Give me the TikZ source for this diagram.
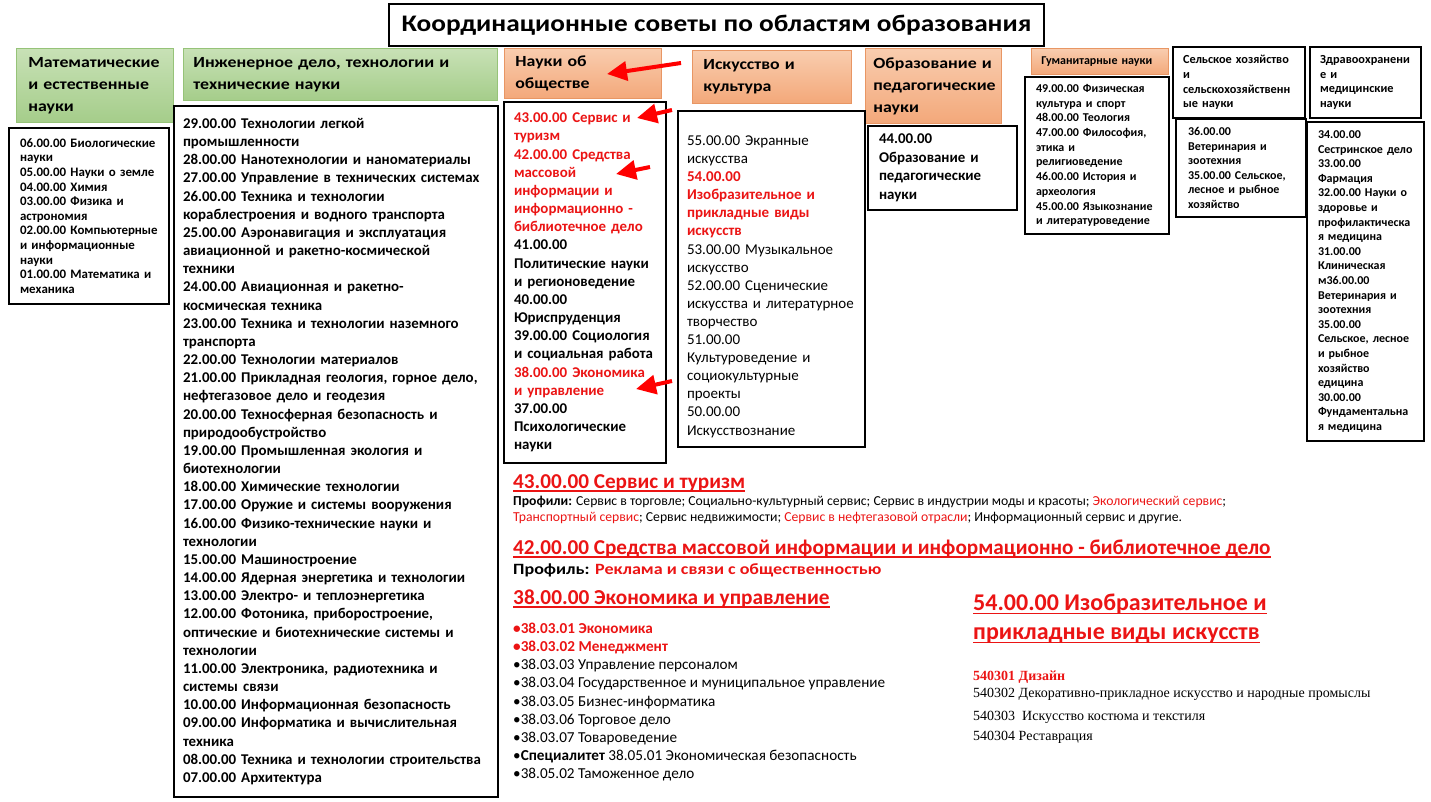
\documentclass[tikz,border=0pt]{standalone}
\usepackage{fontspec}
\setmainfont{Carlito}
\newfontfamily\widefont{Carlito}[FakeStretch=1.15]
\newfontfamily\serifru{Liberation Serif}
\usetikzlibrary{arrows.meta, positioning}

\definecolor{hdgreen}{RGB}{165,205,138}
\definecolor{hdgreenlt}{RGB}{200,225,182}
\definecolor{hdgreenline}{RGB}{150,195,120}
\definecolor{hdorange}{RGB}{243,168,122}
\definecolor{hdorangelt}{RGB}{249,205,175}
\definecolor{hdorangeline}{RGB}{232,150,100}
\definecolor{redtxt}{RGB}{235,20,20}

\newcommand{\rt}[1]{\textcolor{redtxt}{#1}}
\newcommand{\ulred}[1]{\leavevmode\setbox0\hbox{#1}\rlap{\rule[-3.5pt]{\wd0}{1.5pt}}\box0}

\tikzset{
  listbox/.style={draw, line width=2pt, anchor=north west, align=left, fill=white},
  greenhead/.style={draw=hdgreenline, line width=0.8pt, top color=hdgreenlt, bottom color=hdgreen, anchor=north west, align=left},
  orangehead/.style={draw=hdorangeline, line width=0.8pt, top color=hdorangelt, bottom color=hdorange, anchor=north west, align=left},
  redarrow/.style={draw=red, line width=4pt, -{Triangle[length=20pt,width=19pt]}},
  plain/.style={anchor=base west, inner sep=0pt, align=left}
}

\begin{document}
\begin{tikzpicture}[x=1pt, y=-1pt]
  \useasboundingbox (0,0) rectangle (1431,802);

  % title
  \node (title) [listbox, minimum width=655pt, minimum height=42pt, align=center, font=\widefont\bfseries\fontsize{23.75}{28}\selectfont] at (388,3)
    {Координационные советы по областям образования};

  % headers
  \node (mathhd) [greenhead, minimum width=157pt, minimum height=74pt, inner xsep=12pt, text width=133pt, font=\widefont\bfseries\fontsize{15.5}{22}\selectfont] at (16,48)
    {Математические\\и естественные\\науки};
  \node (enghd) [greenhead, minimum width=314pt, minimum height=52pt, inner xsep=10pt, text width=294pt, font=\widefont\bfseries\fontsize{15.5}{22}\selectfont] at (183,48)
    {Инженерное дело, технологии и\\технические науки};
  \node (sochd) [orangehead, minimum width=157pt, minimum height=50pt, inner xsep=11pt, text width=135pt, font=\widefont\bfseries\fontsize{15.5}{22}\selectfont] at (504,48)
    {Науки об\\обществе};
  \node (arthd) [orangehead, minimum width=159pt, minimum height=53pt, inner xsep=11pt, text width=137pt, font=\widefont\bfseries\fontsize{15.5}{22}\selectfont] at (692,50)
    {Искусство и\\культура};
  \node (eduhd) [orangehead, minimum width=136pt, minimum height=75pt, inner xsep=8pt, text width=120pt, font=\widefont\bfseries\fontsize{15.5}{22}\selectfont] at (865,48)
    {Образование и\\педагогические\\науки};
  \node (humhd) [orangehead, minimum width=137pt, minimum height=26pt, inner xsep=10pt, text width=117pt, font=\bfseries\fontsize{12}{14}\selectfont] at (1031,48)
    {Гуманитарные науки};
  \node (agrhd) [listbox, minimum width=132pt, minimum height=71pt, inner xsep=10pt, text width=112pt, font=\bfseries\fontsize{12.3}{14.7}\selectfont] at (1172,46)
    {Сельское хозяйство\\и\\сельскохозяйственн\\ые науки};
  \node (medhd) [listbox, minimum width=111pt, minimum height=71pt, inner xsep=10pt, text width=91pt, font=\bfseries\fontsize{12.3}{14.7}\selectfont] at (1309,46)
    {Здравоохранени\\е и\\медицинские\\науки};

  % lists
  \node (mathls) [listbox, minimum width=160pt, minimum height=176pt, inner xsep=11pt, text width=138pt, font=\bfseries\fontsize{12.9}{14.6}\selectfont] at (8,127)
    {06.00.00 Биологические\\науки\\05.00.00 Науки о земле\\04.00.00 Химия\\03.00.00 Физика и\\астрономия\\02.00.00 Компьютерные\\и информационные\\науки\\01.00.00 Математика и\\механика};
  \node (engls) [listbox, minimum width=324pt, minimum height=691pt, inner xsep=9pt, text width=306pt, font=\bfseries\fontsize{14.9}{18.17}\selectfont] at (173,105)
    {29.00.00 Технологии легкой\\промышленности\\28.00.00 Нанотехнологии и наноматериалы\\27.00.00 Управление в технических системах\\26.00.00 Техника и технологии\\кораблестроения и водного транспорта\\25.00.00 Аэронавигация и эксплуатация\\авиационной и ракетно-космической\\техники\\24.00.00 Авиационная и ракетно-\\космическая техника\\23.00.00 Техника и технологии наземного\\транспорта\\22.00.00 Технологии материалов\\21.00.00 Прикладная геология, горное дело,\\нефтегазовое дело и геодезия\\20.00.00 Техносферная безопасность и\\природообустройство\\19.00.00 Промышленная экология и\\биотехнологии\\18.00.00 Химические технологии\\17.00.00 Оружие и системы вооружения\\16.00.00 Физико-технические науки и\\технологии\\15.00.00 Машиностроение\\14.00.00 Ядерная энергетика и технологии\\13.00.00 Электро- и теплоэнергетика\\12.00.00 Фотоника, приборостроение,\\оптические и биотехнические системы и\\технологии\\11.00.00 Электроника, радиотехника и\\системы связи\\10.00.00 Информационная безопасность\\09.00.00 Информатика и вычислительная\\техника\\08.00.00 Техника и технологии строительства\\07.00.00 Архитектура};
  \node (socls) [listbox, minimum width=162pt, minimum height=361pt, inner xsep=10pt, text width=142pt, font=\bfseries\fontsize{14.9}{18.17}\selectfont] at (503,101)
    {\rt{43.00.00 Сервис и}\\\rt{туризм}\\\rt{42.00.00 Средства}\\\rt{массовой}\\\rt{информации и}\\\rt{информационно -}\\\rt{библиотечное дело}\\41.00.00\\Политические науки\\и регионоведение\\40.00.00\\Юриспруденция\\39.00.00 Социология\\и социальная работа\\\rt{38.00.00 Экономика}\\\rt{и управление}\\37.00.00\\Психологические\\науки};
  \node (artls) [listbox, minimum width=187pt, minimum height=336pt, inner xsep=9pt, text width=169pt, font=\fontsize{15}{18.1}\selectfont] at (677,110)
    {\rule{0pt}{25pt}55.00.00 Экранные\\искусства\\\rt{\bfseries 54.00.00}\\\rt{\bfseries Изобразительное и}\\\rt{\bfseries прикладные виды}\\\rt{\bfseries искусств}\\53.00.00 Музыкальное\\искусство\\52.00.00 Сценические\\искусства и литературное\\творчество\\51.00.00\\Культуроведение и\\социокультурные\\проекты\\50.00.00\\Искусствознание};
  \node (edula) [listbox, minimum width=149pt, minimum height=84pt, inner xsep=11pt, text width=127pt, font=\bfseries\fontsize{14.9}{18.5}\selectfont] at (867,125)
    {44.00.00\\Образование и\\педагогические\\науки};
  \node (humls) [listbox, minimum width=144pt, minimum height=157pt, inner xsep=11pt, text width=122pt, font=\bfseries\fontsize{12}{14.7}\selectfont] at (1024,76)
    {49.00.00 Физическая\\культура и спорт\\48.00.00 Теология\\47.00.00 Философия,\\этика и\\религиоведение\\46.00.00 История и\\археология\\45.00.00 Языкознание\\и литературоведение};
  \node (agrls) [listbox, minimum width=130pt, minimum height=98pt, inner xsep=12pt, text width=106pt, font=\bfseries\fontsize{12}{14.6}\selectfont] at (1175,118)
    {36.00.00\\Ветеринария и\\зоотехния\\35.00.00 Сельское,\\лесное и рыбное\\хозяйство};
  \node (medls) [listbox, minimum width=117pt, minimum height=319pt, inner xsep=11pt, text width=95pt, font=\bfseries\fontsize{12}{14.6}\selectfont] at (1306,121)
    {34.00.00\\Сестринское дело\\33.00.00\\Фармация\\32.00.00 Науки о\\здоровье и\\профилактическа\\я медицина\\31.00.00\\Клиническая\\м36.00.00\\Ветеринария и\\зоотехния\\35.00.00\\Сельское, лесное\\и рыбное\\хозяйство\\едицина\\30.00.00\\Фундаментальна\\я медицина};

  % red arrows
  \coordinate (a1s) at (681,63);  \coordinate (a1e) at (607,74);
  \coordinate (a2s) at (672,110); \coordinate (a2e) at (637,118);
  \coordinate (a3s) at (650,167); \coordinate (a3e) at (616,174);
  \coordinate (a4s) at (672,381); \coordinate (a4e) at (636,389);
  \draw [redarrow] (a1s) -- (a1e);
  \draw [redarrow] (a2s) -- (a2e);
  \draw [redarrow] (a3s) -- (a3e);
  \draw [redarrow] (a4s) -- (a4e);

  % details below
  \node (servt) [plain, text=redtxt, font=\bfseries\fontsize{21.2}{24}\selectfont] at (513,488) {\ulred{43.00.00 Сервис и туризм}};
  \node (servp) [plain, anchor=north west, font=\fontsize{13.7}{16}\selectfont] at (513,496)
    {\textbf{Профили:} Сервис в торговле; Социально-культурный сервис; Сервис в индустрии моды и красоты; \rt{Экологический сервис};\\\rt{Транспортный сервис}; Сервис недвижимости; \rt{Сервис в нефтегазовой отрасли}; Информационный сервис и другие.};
  \node (smit) [plain, text=redtxt, font=\bfseries\fontsize{21.2}{24}\selectfont] at (513,554) {\ulred{42.00.00 Средства массовой информации и информационно - библиотечное дело}};
  \node (smip) [plain, font=\widefont\bfseries\fontsize{15.7}{18}\selectfont] at (513,574) {Профиль: \rt{Реклама и связи с общественностью}};
  \node (ecot) [plain, text=redtxt, font=\bfseries\fontsize{21.3}{24}\selectfont] at (513,604) {\ulred{38.00.00 Экономика и управление}};
  \node (ecols) [plain, anchor=north west, font=\fontsize{15.2}{18.2}\selectfont] at (513,622.5)
    {\rt{\textbf{•38.03.01 Экономика}}\\\rt{\textbf{•38.03.02 Менеджмент}}\\•38.03.03 Управление персоналом\\•38.03.04 Государственное и муниципальное управление\\•38.03.05 Бизнес-информатика\\•38.03.06 Торговое дело\\•38.03.07 Товароведение\\•\textbf{Специалитет} 38.05.01 Экономическая безопасность\\•38.05.02 Таможенное дело};
  \node (artt) [plain, anchor=north west, text=redtxt, font=\bfseries\fontsize{24}{29}\selectfont] at (973,594)
    {\ulred{54.00.00 Изобразительное и}\\\ulred{прикладные виды искусств}};
  \node (artd) [plain, font=\serifru\bfseries\fontsize{14}{16}\selectfont, text=redtxt] at (973,680) {540301 Дизайн};
  \node (artp) [plain, anchor=north west, font=\serifru\fontsize{14}{20}\selectfont] at (973,688)
    {540302 Декоративно-прикладное искусство и народные промыслы\\[3pt]540303~ Искусство костюма и текстиля\\540304 Реставрация};
\end{tikzpicture}
\end{document}
